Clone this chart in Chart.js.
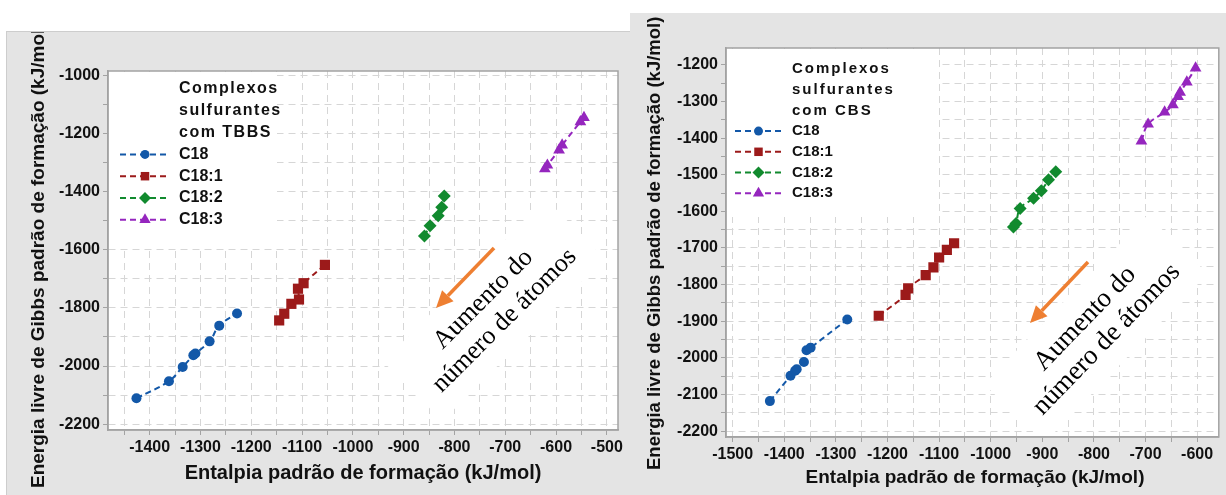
<!DOCTYPE html>
<html lang="pt">
<head>
<meta charset="utf-8">
<script src="https://cdn.jsdelivr.net/npm/chart.js@4.4.1/dist/chart.umd.min.js"></script>
<style>
  html, body { margin: 0; padding: 0; background: #fff; }
  body { width: 1226px; height: 495px; position: relative; overflow: hidden; }
  canvas { position: absolute; background: #e4e4e4; }
  #chartTBBS { left: 7px; top: 32px; outline: 1px solid #cdcdcd; }
  #chartCBS { left: 630px; top: 13px; }
</style>
</head>
<body>
<canvas id="chartTBBS" width="623" height="463"></canvas>
<canvas id="chartCBS" width="596" height="482"></canvas>
<script>
const seriesNames = ['C18', 'C18:1', 'C18:2', 'C18:3'];

// TBBS complexes (kJ/mol)
const tbbsC18X  = [-1426, -1362, -1335, -1314, -1310, -1282, -1263, -1228];
const tbbsC18Y  = [-2111, -2052, -2003, -1963, -1957, -1915, -1861, -1819];
const tbbsC181X = [-1145, -1135, -1121, -1106, -1108, -1097, -1055];
const tbbsC181Y = [-1843, -1820, -1786, -1771, -1734, -1715, -1652];
const tbbsC182X = [-859, -848, -832, -825, -820];
const tbbsC182Y = [-1553, -1517, -1483, -1454, -1415];
const tbbsC183X = [-622, -617, -594, -588, -552, -545];
const tbbsC183Y = [-1322, -1309, -1257, -1240, -1160, -1145];

// CBS complexes (kJ/mol)
const cbsC18X  = [-1428, -1388, -1379, -1376, -1362, -1357, -1349, -1278];
const cbsC18Y  = [-2118, -2049, -2035, -2031, -2011, -1979, -1972, -1895];
const cbsC181X = [-1217, -1165, -1160, -1126, -1111, -1100, -1085, -1071];
const cbsC181Y = [-1885, -1828, -1810, -1774, -1753, -1726, -1705, -1687];
const cbsC182X = [-956, -951, -943, -917, -902, -888, -874];
const cbsC182Y = [-1643, -1633, -1592, -1564, -1544, -1514, -1492];
const cbsC183X = [-708, -695, -663, -647, -637, -633, -620, -603];
const cbsC183Y = [-1408, -1362, -1329, -1309, -1287, -1275, -1247, -1209];

// labelled ticks
const tbbsXLabels = [-1400, -1300, -1200, -1100, -1000, -900, -800, -700, -600, -500];
const tbbsYLabels = [-2200, -2000, -1800, -1600, -1400, -1200, -1000];
const cbsXLabels  = [-1500, -1400, -1300, -1200, -1100, -1000, -900, -800, -700, -600];
const cbsYLabels  = [-2200, -2100, -2000, -1900, -1800, -1700, -1600, -1500, -1400, -1300, -1200];

const xTitle = 'Entalpia padrão de formação (kJ/mol)';
const yTitle = 'Energia livre de Gibbs padrão de formação (kJ/mol)';
const noteLines = ['Aumento do', 'número de átomos'];

const colors = ['#1358a8', '#9c1a1a', '#118a2e', '#9526be'];
const shapes = ['circle', 'rect', 'rectRot', 'triangle'];

function drawMarker(ctx, style, x, y, r) {
  ctx.beginPath();
  if (style === 'circle') {
    ctx.arc(x, y, r, 0, Math.PI * 2);
  } else if (style === 'rect') {
    const s = r * Math.SQRT1_2;
    ctx.rect(x - s, y - s, 2 * s, 2 * s);
  } else if (style === 'rectRot') {
    ctx.moveTo(x, y - r); ctx.lineTo(x + r, y); ctx.lineTo(x, y + r); ctx.lineTo(x - r, y);
    ctx.closePath();
  } else {
    let a = 0;
    ctx.moveTo(x + Math.sin(a) * r, y - Math.cos(a) * r);
    a += Math.PI * 2 / 3;
    ctx.lineTo(x + Math.sin(a) * r, y - Math.cos(a) * r);
    a += Math.PI * 2 / 3;
    ctx.lineTo(x + Math.sin(a) * r, y - Math.cos(a) * r);
    ctx.closePath();
  }
  ctx.fill();
}

function drawArrow(ctx, x1, y1, x2, y2, color) {
  const ang = Math.atan2(y2 - y1, x2 - x1);
  const head = 17, half = 8;
  const bx = x2 - head * Math.cos(ang), by = y2 - head * Math.sin(ang);
  ctx.strokeStyle = color;
  ctx.lineWidth = 3.5;
  ctx.beginPath(); ctx.moveTo(x1, y1); ctx.lineTo(bx, by); ctx.stroke();
  ctx.fillStyle = color;
  ctx.beginPath();
  ctx.moveTo(x2, y2);
  ctx.lineTo(bx + half * Math.sin(ang), by - half * Math.cos(ang));
  ctx.lineTo(bx - half * Math.sin(ang), by + half * Math.cos(ang));
  ctx.closePath();
  ctx.fill();
}

// white plot area, legend box, rotated note, frame, titles
const panelDecor = {
  id: 'panelDecor',
  beforeDraw(chart) {
    const { ctx, chartArea: a } = chart;
    ctx.save();
    ctx.fillStyle = '#fff';
    ctx.fillRect(a.left, a.top, a.right - a.left, a.bottom - a.top);
    ctx.restore();
  },
  beforeDatasetsDraw(chart, args, opts) {
    const { ctx, chartArea: a } = chart;
    ctx.save();
    ctx.beginPath();
    ctx.rect(a.left + 1, a.top + 1, a.right - a.left - 2, a.bottom - a.top - 2);
    ctx.clip();
    ctx.fillStyle = '#fff';
    const lb = opts.legend.box;
    ctx.fillRect(lb[0], lb[1], lb[2], lb[3]);
    const n = opts.note;
    ctx.translate(n.x, n.y);
    ctx.rotate(n.angle * Math.PI / 180);
    ctx.fillRect(-n.w / 2, -n.h / 2, n.w, n.h);
    ctx.restore();
  },
  afterDraw(chart, args, opts) {
    const { ctx, chartArea: a } = chart;
    ctx.save();
    // frame
    ctx.strokeStyle = '#a3a3a3';
    ctx.lineWidth = 1.5;
    ctx.strokeRect(a.left, a.top, a.right - a.left, a.bottom - a.top);

    // axis titles
    ctx.fillStyle = '#111';
    ctx.font = `bold ${opts.xTitleSize}px "Liberation Sans", Arial, sans-serif`;
    ctx.textAlign = 'center';
    ctx.textBaseline = 'middle';
    ctx.fillText(xTitle, opts.xTitle[0], opts.xTitle[1]);
    ctx.save();
    ctx.font = `bold ${opts.yTitleSize}px "Liberation Sans", Arial, sans-serif`;
    ctx.translate(opts.yTitle[0], opts.yTitle[1]);
    ctx.rotate(-Math.PI / 2);
    ctx.textAlign = 'left';
    ctx.fillText(yTitle, 0, 0);
    ctx.restore();

    // legend
    const lg = opts.legend;
    ctx.font = `bold ${lg.size}px "Liberation Sans", Arial, sans-serif`;
    ctx.textAlign = 'left';
    ctx.letterSpacing = lg.spacing;
    lg.title.forEach((t, i) => ctx.fillText(t, lg.textX, lg.y0 + i * lg.dy));
    ctx.letterSpacing = '0px';
    chart.data.datasets.forEach((ds, i) => {
      const y = lg.y0 + (lg.title.length + i) * lg.dy;
      ctx.strokeStyle = ds.borderColor;
      ctx.lineWidth = 2;
      ctx.setLineDash(ds.borderDash);
      ctx.beginPath(); ctx.moveTo(lg.x1, y); ctx.lineTo(lg.x2, y); ctx.stroke();
      ctx.setLineDash([]);
      ctx.fillStyle = ds.backgroundColor;
      drawMarker(ctx, ds.pointStyle, (lg.x1 + lg.x2) / 2, y, lg.marker[i]);
      ctx.fillStyle = '#111';
      ctx.fillText(ds.label, lg.textX, y);
    });

    // arrow and note
    const n = opts.note;
    drawArrow(ctx, n.arrow[0], n.arrow[1], n.arrow[2], n.arrow[3], '#ee7f32');
    ctx.translate(n.x, n.y);
    ctx.rotate(n.angle * Math.PI / 180);
    ctx.fillStyle = '#000';
    ctx.font = `${n.size}px "Liberation Serif", "Times New Roman", serif`;
    ctx.textAlign = 'center';
    noteLines.forEach((t, i) => ctx.fillText(t, 0, (i - (noteLines.length - 1) / 2) * n.lh));
    ctx.restore();
  }
};

function series(i, xs, ys, r) {
  return {
    label: seriesNames[i],
    data: xs.map((x, k) => ({ x, y: ys[k] })),
    borderColor: colors[i],
    backgroundColor: colors[i],
    borderWidth: 2,
    borderDash: [6, 4],
    tension: 0.4,
    pointStyle: shapes[i],
    pointRadius: r[i],
    pointBorderWidth: 0,
    fill: false
  };
}

function axis(min, max, step, labels, fontSize, size, horizontal) {
  return {
    type: 'linear',
    min: min,
    max: max,
    afterFit(scale) {
      if (horizontal) scale.height = size; else scale.width = size;
      scale.paddingLeft = scale.paddingRight = 0;
      scale.paddingTop = scale.paddingBottom = 0;
    },
    ticks: {
      stepSize: step,
      includeBounds: false,
      autoSkip: false,
      maxRotation: 0,
      padding: 3,
      color: '#111',
      font: { family: '"Liberation Sans", Arial, sans-serif', size: fontSize, weight: 'bold' },
      callback: v => labels.includes(v) ? String(v) : ''
    },
    grid: { color: '#d6d6d6', lineWidth: 1, tickLength: 5, tickColor: '#a3a3a3' },
    border: { color: '#a3a3a3', width: 1.5, dash: [7, 5] }
  };
}

const markerSizes = [5, 7.2, 6.5, 6.8];

new Chart(document.getElementById('chartTBBS'), {
  type: 'line',
  data: {
    datasets: [
      series(0, tbbsC18X, tbbsC18Y, markerSizes),
      series(1, tbbsC181X, tbbsC181Y, markerSizes),
      series(2, tbbsC182X, tbbsC182Y, markerSizes),
      series(3, tbbsC183X, tbbsC183Y, markerSizes)
    ]
  },
  options: {
    responsive: false,
    animation: false,
    layout: { padding: { top: 39, right: 12, left: 0, bottom: 0 } },
    scales: {
      x: axis(-1482, -478, 50, tbbsXLabels, 16, 65, true),
      y: axis(-2220, -985, 100, tbbsYLabels, 16, 101, false)
    },
    plugins: {
      legend: { display: false },
      tooltip: { enabled: false },
      panelDecor: {
        xTitleSize: 20,
        yTitleSize: 19,
        xTitle: [356, 441],
        yTitle: [32, 456],
        legend: {
          box: [102, 40, 168, 177],
          title: ['Complexos', 'sulfurantes', 'com TBBS'],
          size: 16, spacing: '1.5px',
          textX: 172, y0: 57, dy: 21.8,
          x1: 113, x2: 163, marker: [4.5, 6, 6, 6.5]
        },
        note: { x: 487, y: 278, angle: -45, w: 230, h: 84, size: 26, lh: 30, arrow: [487, 216, 429, 276] }
      }
    }
  },
  plugins: [panelDecor]
});

new Chart(document.getElementById('chartCBS'), {
  type: 'line',
  data: {
    datasets: [
      series(0, cbsC18X, cbsC18Y, markerSizes),
      series(1, cbsC181X, cbsC181Y, markerSizes),
      series(2, cbsC182X, cbsC182Y, markerSizes),
      series(3, cbsC183X, cbsC183Y, markerSizes)
    ]
  },
  options: {
    responsive: false,
    animation: false,
    layout: { padding: { top: 35, right: 3, left: 0, bottom: 0 } },
    scales: {
      x: axis(-1513, -558, 50, cbsXLabels, 16, 58, true),
      y: axis(-2216, -1154, 50, cbsYLabels, 16, 96, false)
    },
    plugins: {
      legend: { display: false },
      tooltip: { enabled: false },
      panelDecor: {
        xTitleSize: 19,
        yTitleSize: 18.5,
        xTitle: [345, 465],
        yTitle: [25, 457],
        legend: {
          box: [97, 36, 211, 168],
          title: ['Complexos', 'sulfurantes', 'com CBS'],
          size: 15, spacing: '2px',
          textX: 162, y0: 56, dy: 20.7,
          x1: 105, x2: 152, marker: [4.5, 6, 6, 6.5]
        },
        note: { x: 466, y: 316, angle: -46, w: 235, h: 84, size: 27, lh: 30, arrow: [458, 249, 400, 310] }
      }
    }
  },
  plugins: [panelDecor]
});
</script>
</body>
</html>
